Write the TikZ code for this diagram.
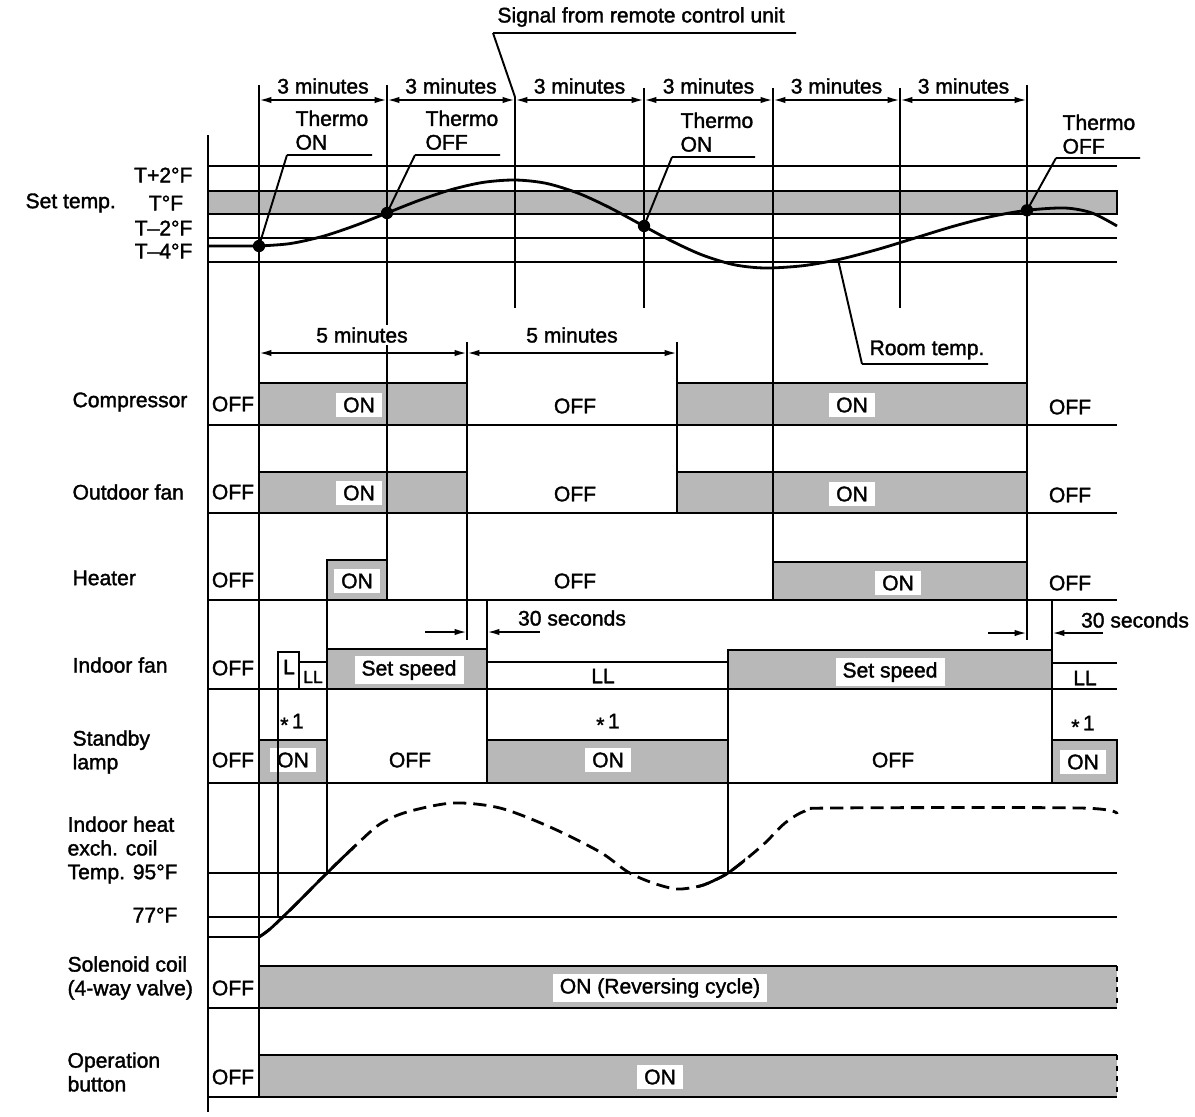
\documentclass[tikz,border=0pt]{standalone}
\usepackage{fontspec}
\setmainfont{Liberation Sans}[FakeBold=1.6]
\usetikzlibrary{arrows.meta}

\tikzset{
  lbl/.style={font=\fontsize{12}{13.5}\selectfont, inner sep=1.5pt},
  wlbl/.style={lbl, fill=white, inner xsep=4pt, inner ysep=2.5pt},
  halftone/.style={fill=black!28},
  onbox/.style={halftone, draw=black},
  dimarr/.style={{Latex[length=7pt,width=3.6pt]}-{Latex[length=7pt,width=3.6pt]}},
  tip/.style={-{Latex[length=7pt,width=3.6pt]}},
  temp/.style={line width=1.6pt},
  dot/.style={circle, fill=black, inner sep=0pt, minimum size=7pt},
}

% room temperature and coil temperature curves
\newcommand{\roompath}{plot[smooth, tension=0.5] coordinates {(259,246) (290,243.6) (323,236.3) (355,225.6) (387,213) (419,200.4) (451,189.7) (483,182.4) (515,180) (546,183.3) (578,193.1) (609,207.3) (640,224) (671,240.7) (702,254.9) (734,264.7) (765,268) (803,265.7) (840,259.2) (878,249.3) (915,238) (953,226.4) (990,216.8) (1027,210.3) (1065,208) (1092,213) (1117,226)}}
\newcommand{\coilpath}{plot[smooth, tension=0.5] coordinates {(259,937) (270,929) (290,910) (327,873) (355,846) (380,824) (407,812) (453,803) (500,808) (550,827) (600,852) (628,872) (653,883) (677,889) (700,886) (715,880) (728,873) (745,860) (765,843) (785,823) (805,811) (830,808) (1080,808) (1117,814)}}
\newcommand{\starone}{\raisebox{-0.35ex}{*}\,1}

\begin{document}
\begin{tikzpicture}[x=0.02cm, y=-0.02cm, line width=1.1pt]
\useasboundingbox (0,0) rectangle (1195,1116);

% set temperature band
\filldraw[onbox] (208,191) rectangle (1117,214);
\foreach \y in {166,238,262}
    \draw (208,\y) -- (1117,\y);

% ON periods
\foreach \a/\b/\t/\u in {259/467/383/425, 677/1027/383/425, 259/467/472/513, 677/1027/472/513,
        327/387/560/600, 773/1027/562/600, 327/487/649/689, 728/1052/650/689,
        259/327/740/783, 487/728/740/783, 1052/1117/740/783}
    \filldraw[onbox] (\a,\t) rectangle (\b,\u);
\fill[halftone] (259,966) rectangle (1117,1008);
\fill[halftone] (259,1055) rectangle (1117,1097);
\draw (1117,966) -- (259,966) (1117,1055) -- (259,1055);
\draw[dashed] (1117,966) -- (1117,1008) (1117,1055) -- (1117,1097);

% row lines
\foreach \y in {425,513,600,689,783,873,917,1008,1097}
    \draw (208,\y) -- (1117,\y);
\draw (278,689) |- (299,652) -- (299,689);
\draw (299,662) -- (327,662);
\draw (487,662) -- (728,662);
\draw (1052,663) -- (1117,663);

% curves
\draw[temp] (208,246) -- (259,246) \roompath;
\draw[temp, dash pattern=on 7.5pt off 4pt] \coilpath;
\draw[temp] (208,937) -- (259,937);
\begin{scope}
    \clip (250,780) rectangle (355,950);
    \draw[temp] \coilpath;
\end{scope}
\begin{scope}
    \clip (698,780) rectangle (745,950);
    \draw[temp] \coilpath;
\end{scope}

% left labels
\node[lbl, anchor=west] (nSet) at (22,203) {Set temp.};
\node[lbl, anchor=east] (nT2) at (196,175) {T+2°F};
\node[lbl] (nT0) at (166,203) {T°F};
\node[lbl, anchor=east] (nTm2) at (196,228) {T–2°F};
\node[lbl, anchor=east] (nTm4) at (196,251) {T–4°F};
\node[lbl, anchor=west] (nComp) at (69,402) {Compressor};
\node[lbl, anchor=west] (nOut) at (69,492) {Outdoor fan};
\node[lbl, anchor=west] (nHeat) at (69,578) {Heater};
\node[lbl, anchor=west] (nIfan) at (69,665) {Indoor fan};
\node[lbl, anchor=west, align=left] (nStby) at (69,752) {Standby\\lamp};
\node[lbl, anchor=west, align=left] (nCoil) at (64,850) {Indoor heat\\exch. coil\\Temp. 95°F};
\node[lbl, anchor=east] (n77) at (181,915) {77°F};
\node[lbl, anchor=west, align=left] (nSol) at (64,978) {Solenoid coil\\(4-way valve)};
\node[lbl, anchor=west, align=left] (nOp) at (64,1072) {Operation\\button};
\foreach \y [count=\i] in {404,492,580,668,760,988,1077}
    \node[lbl] (off\i) at (233,\y) {OFF};

% state labels
\node[wlbl] (cOn1) at (359,405) {ON};
\node[lbl] (cOff1) at (575,406) {OFF};
\node[wlbl] (cOn2) at (852,405) {ON};
\node[lbl] (cOff2) at (1070,407) {OFF};
\node[wlbl] (oOn1) at (359,493) {ON};
\node[lbl] (oOff1) at (575,494) {OFF};
\node[wlbl] (oOn2) at (852,494) {ON};
\node[lbl] (oOff2) at (1070,495) {OFF};
\node[wlbl] (hOn1) at (357,581) {ON};
\node[lbl] (hOff1) at (575,581) {OFF};
\node[wlbl] (hOn2) at (898,583) {ON};
\node[lbl] (hOff2) at (1070,583) {OFF};
\node[lbl] (fL) at (289,667) {L};
\node[lbl, font=\fontsize{10}{11}\selectfont] (fLL1) at (313,677) {LL};
\node[wlbl] (fSet1) at (409,670) {Set speed};
\node[lbl] (fLL2) at (603,676) {LL};
\node[wlbl] (fSet2) at (890,672) {Set speed};
\node[lbl] (fLL3) at (1085,678) {LL};
\node[lbl] (s30a) at (572,618) {30 seconds};
\node[lbl] (s30b) at (1135,620) {30 seconds};
\node[lbl] (sNote1) at (292,723) {\starone};
\node[lbl] (sNote2) at (608,723) {\starone};
\node[lbl] (sNote3) at (1083,725) {\starone};
\node[wlbl] (sOn1) at (293,760) {ON};
\node[lbl] (sOff1) at (410,760) {OFF};
\node[wlbl] (sOn2) at (608,760) {ON};
\node[lbl] (sOff2) at (893,760) {OFF};
\node[wlbl] (sOn3) at (1083,762) {ON};
\node[wlbl] (vOn) at (660,988) {ON (Reversing cycle)};
\node[wlbl] (bOn) at (660,1077) {ON};

% time lines
\draw (208,135) -- (208,1112);
\foreach \x/\a/\b in {259/85/1097, 387/85/600, 515/97/308, 644/88/308, 773/88/600, 900/88/308,
        1027/85/640, 467/342/640, 677/342/513, 327/560/873, 278/652/917, 487/600/783,
        728/650/873, 1052/600/783}
    \draw (\x,\a) -- (\x,\b);

% dimensions
\foreach \a/\b [count=\i] in {259/387, 387/515, 515/644, 644/773, 773/900, 900/1027} {
    \draw[dimarr] (\a,100) -- (\b,100);
    \node[lbl] (min\i) at ({(\a+\b)/2},86) {3 minutes};
}
\draw[dimarr] (259,353) -- (467,353);
\draw[dimarr] (467,353) -- (677,353);
\node[lbl, fill=white] (five1) at (362,335) {5 minutes};
\node[lbl, fill=white] (five2) at (572,335) {5 minutes};
\draw[tip] (425,632) -- (467,632);
\draw[tip] (540,632) -- (487,632);
\draw[tip] (988,633) -- (1027,633);
\draw[tip] (1103,633) -- (1052,633);

% thermo points and leaders
\node[dot] (dOn1) at (259,246) {};
\node[dot] (dOff1) at (387,213) {};
\node[dot] (dOn2) at (644,226) {};
\node[dot] (dOff2) at (1027,210.3) {};
\node[lbl, anchor=north west, align=left] (tOn1) at (292,107) {Thermo\\ON};
\node[lbl, anchor=north west, align=left] (tOff1) at (422,107) {Thermo\\OFF};
\node[lbl, anchor=north west, align=left] (tOn2) at (677,109) {Thermo\\ON};
\node[lbl, anchor=north west, align=left] (tOff2) at (1059,111) {Thermo\\OFF};
\coordinate (uOn1) at (287,155);
\coordinate (uOff1) at (415,155);
\coordinate (uOn2) at (672,157);
\coordinate (uOff2) at (1056,158);
\draw (uOn1) -- ++(85,0) (uOn1) -- (dOn1.center);
\draw (uOff1) -- ++(85,0) (uOff1) -- (dOff1.center);
\draw (uOn2) -- ++(83,0) (uOn2) -- (dOn2.center);
\draw (uOff2) -- ++(84,0) (uOff2) -- (dOff2.center);

% remote signal and room temp
\node[lbl] (sig) at (641,17) {Signal from remote control unit};
\coordinate (uSig) at (493,33);
\coordinate (pSig) at (515,97);
\draw (uSig) -- (796,33) (uSig) -- (pSig);
\node[lbl] (room) at (927,350) {Room temp.};
\coordinate (uRoom) at (862,364);
\coordinate (pRoom) at (838,259.5);
\draw (uRoom) -- (988,364) (uRoom) -- (pRoom);
\end{tikzpicture}
\end{document}
